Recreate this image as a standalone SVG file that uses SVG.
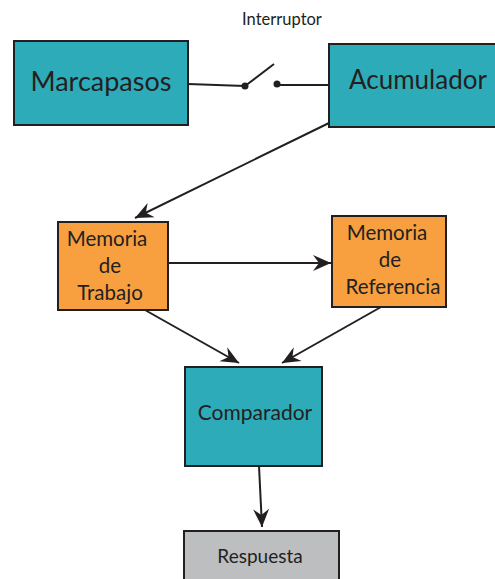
<svg xmlns="http://www.w3.org/2000/svg" width="495" height="579" viewBox="0 0 495 579">
<style>
.box{stroke:#231f20;stroke-width:2}
.teal{fill:#2eabb8}
.orange{fill:#f89f3f}
.grey{fill:#bcbec0}
text{font-family:"Lato","Liberation Sans",sans-serif;fill:#231f20;text-anchor:middle}
.mem{font-size:20.5px}
.conn{stroke:#231f20;stroke-width:2;fill:none}
</style>
<defs>
<marker id="arr" markerUnits="userSpaceOnUse" markerWidth="24" markerHeight="20" viewBox="-20 -10 24 20" refX="0" refY="0" orient="auto">
<path d="M0,0 L-18,-8 L-12,0 L-18,8 Z" fill="#231f20"/>
</marker>
</defs>
<g id="marcapasos">
<rect class="box teal" x="14" y="41" width="174" height="84"/>
<text x="101" y="91" font-size="27">Marcapasos</text>
</g>
<g id="acumulador">
<rect class="box teal" x="329" y="44" width="170" height="83"/>
<text x="418" y="89" font-size="26">Acumulador</text>
</g>
<g id="interruptor">
<text x="282" y="25" font-size="16.5">Interruptor</text>
<circle cx="245" cy="86" r="3.5" fill="#231f20"/>
<circle cx="277" cy="84" r="3.5" fill="#231f20"/>
<line class="conn" x1="245" y1="86" x2="274" y2="64"/>
</g>
<g id="memoria-trabajo">
<rect class="box orange" x="58" y="222" width="110" height="88"/>
<text class="mem" x="107" y="246">Memoria</text>
<text class="mem" x="110" y="273">de</text>
<text class="mem" x="110" y="300">Trabajo</text>
</g>
<g id="memoria-referencia">
<rect class="box orange" x="332" y="216" width="114" height="91"/>
<text class="mem" x="387" y="240">Memoria</text>
<text class="mem" x="390" y="267">de</text>
<text class="mem" x="393" y="294">Referencia</text>
</g>
<g id="comparador">
<rect class="box teal" x="185" y="367" width="137" height="99"/>
<text x="255" y="420" font-size="21">Comparador</text>
</g>
<g id="respuesta">
<rect class="box grey" x="184" y="531" width="155" height="52"/>
<text x="260" y="563" font-size="19">Respuesta</text>
</g>
<g id="connectors">
<line class="conn" x1="188" y1="84" x2="245" y2="86"/>
<line class="conn" x1="277" y1="85" x2="329" y2="85"/>
<line class="conn" x1="329" y1="123" x2="135" y2="218" marker-end="url(#arr)"/>
<line class="conn" x1="168" y1="263" x2="331" y2="263" marker-end="url(#arr)"/>
<line class="conn" x1="145" y1="310" x2="239" y2="363" marker-end="url(#arr)"/>
<line class="conn" x1="381" y1="307" x2="282" y2="363" marker-end="url(#arr)"/>
<line class="conn" x1="259" y1="466" x2="262" y2="527" marker-end="url(#arr)"/>
</g>
</svg>
